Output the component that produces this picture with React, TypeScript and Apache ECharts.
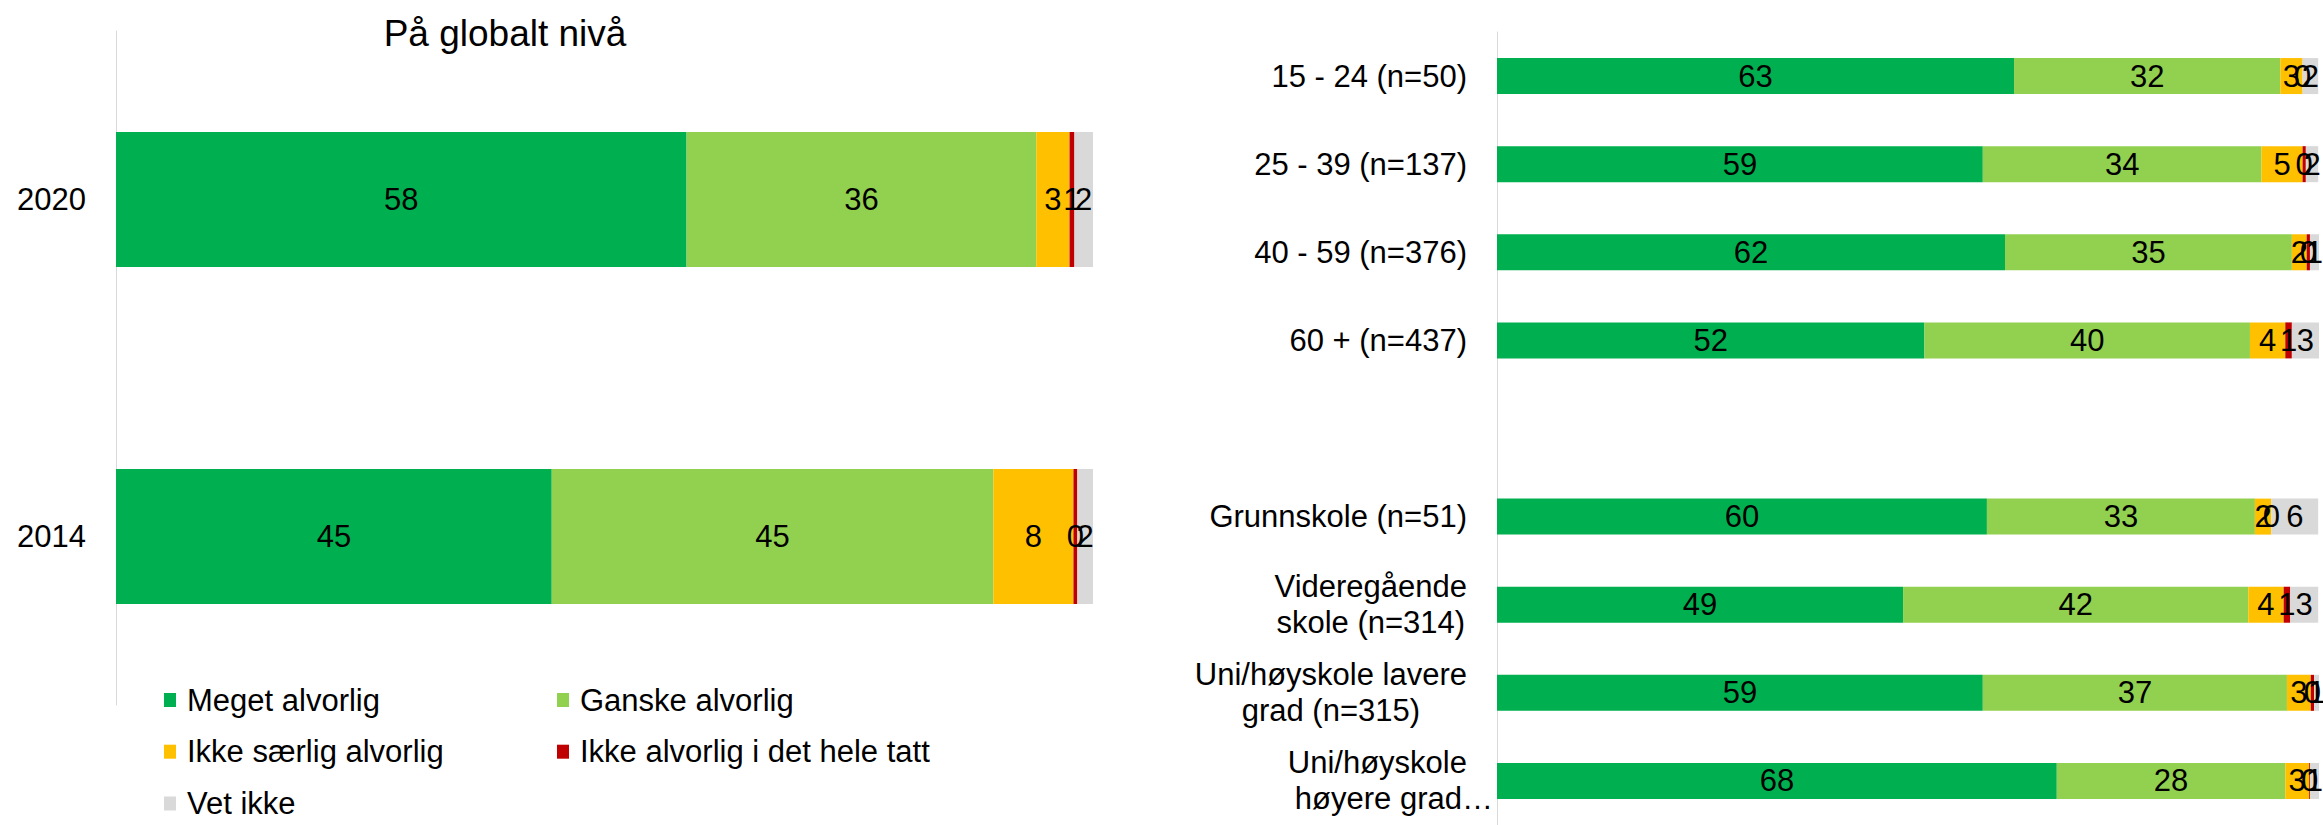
import React, { useEffect, useRef } from "react";
import * as echarts from "echarts";

const FONT = "'Liberation Sans', Arial, sans-serif";

const seriesNames = [
  "Meget alvorlig",
  "Ganske alvorlig",
  "Ikke særlig alvorlig",
  "Ikke alvorlig i det hele tatt",
  "Vet ikke",
];
const seriesColors = ["#00B050", "#92D050", "#FFC000", "#C00000", "#D9D9D9"];

// Left panel: "På globalt nivå"
const yearCategories = ["2020", "2014"];
const globalMeget = [58.4, 44.6];
const globalGanske = [35.8, 45.2];
const globalIkkeSaerlig = [3.4, 8.2];
const globalIkkeAlvorlig = [0.5, 0.4];
const globalVetIkke = [1.9, 1.6];

// Right panel: age groups, then education
const ageCategories = ["15 - 24 (n=50)", "25 - 39 (n=137)", "40 - 59 (n=376)", "60 + (n=437)"];
const ageMeget = [62.9, 59.1, 61.8, 52.0];
const ageGanske = [32.4, 33.9, 34.9, 39.6];
const ageIkkeSaerlig = [2.7, 5.0, 1.8, 4.3];
const ageIkkeAlvorlig = [0, 0.4, 0.4, 0.8];
const ageVetIkke = [1.9, 1.5, 1.1, 3.3];

const eduCategories = [
  "Grunnskole (n=51)",
  "Videregående\nskole (n=314)",
  "Uni/høyskole lavere\ngrad (n=315)",
  "Uni/høyskole\nhøyere grad…",
];
const eduMeget = [59.6, 49.4, 59.1, 68.1];
const eduGanske = [32.6, 42.0, 37.0, 27.8];
const eduIkkeSaerlig = [2.0, 4.3, 2.9, 2.9];
const eduIkkeAlvorlig = [0, 0.8, 0.4, 0.1];
const eduVetIkke = [5.7, 3.4, 0.6, 1.1];

const title = "På globalt nivå";

export default function App() {
  const ref = useRef<HTMLDivElement>(null);

  useEffect(() => {
    if (!ref.current) return;
    const chart = echarts.init(ref.current, undefined, { renderer: "svg" });

    const globalData = [globalMeget, globalGanske, globalIkkeSaerlig, globalIkkeAlvorlig, globalVetIkke];
    const ageData = [ageMeget, ageGanske, ageIkkeSaerlig, ageIkkeAlvorlig, ageVetIkke];
    const eduData = [eduMeget, eduGanske, eduIkkeSaerlig, eduIkkeAlvorlig, eduVetIkke];
    const rightCategories = [...ageCategories, "", ...eduCategories];
    const lastIndex = rightCategories.length - 1;

    const labelCfg = {
      show: true,
      position: "inside",
      color: "#000",
      fontSize: 31,
      fontFamily: FONT,
      formatter: (p: any) => (p.value == null ? "" : String(Math.round(p.value))),
    };

    const series: any[] = [];
    seriesNames.forEach((name, i) => {
      series.push({
        name,
        type: "bar",
        stack: "global",
        xAxisIndex: 0,
        yAxisIndex: 0,
        barWidth: 135,
        itemStyle: { color: seriesColors[i] },
        label: labelCfg,
        data: globalData[i],
      });
    });
    seriesNames.forEach((name, i) => {
      series.push({
        name,
        type: "bar",
        stack: "groups",
        xAxisIndex: 1,
        yAxisIndex: 1,
        barWidth: 36,
        itemStyle: { color: seriesColors[i] },
        label: labelCfg,
        data: [...ageData[i], null, ...eduData[i]],
      });
    });

    const legendPos = [
      { x: 164, row: 0 },
      { x: 557, row: 0 },
      { x: 164, row: 1 },
      { x: 557, row: 1 },
      { x: 164, row: 2 },
    ];
    const rowCenters = [700, 751.7, 803.5];
    const legends = seriesNames.map((name, i) => ({
      data: [name],
      left: legendPos[i].x,
      top: rowCenters[legendPos[i].row] - 15.5,
      padding: 0,
      icon: "rect",
      itemWidth: 12,
      itemHeight: 14,
      selectedMode: false,
      textStyle: { fontSize: 31, color: "#000", fontFamily: FONT, padding: [0, 0, 0, 6] },
    }));

    const richBase = { fontSize: 31, lineHeight: 36, color: "#000", fontFamily: FONT };

    chart.setOption({
      animation: false,
      backgroundColor: "#fff",
      textStyle: { fontFamily: FONT },
      title: {
        text: title,
        left: 500,
        top: 10,
        textAlign: "center",
        textStyle: { fontSize: 37, fontWeight: "normal", color: "#000", fontFamily: FONT },
      },
      legend: legends,
      grid: [
        { left: 116, width: 977, top: 31, height: 674 },
        { left: 1497, width: 822, top: 32, height: 803 },
      ],
      xAxis: [
        { type: "value", gridIndex: 0, min: 0, max: 100, show: false },
        { type: "value", gridIndex: 1, min: 0, max: 100, show: false },
      ],
      yAxis: [
        {
          type: "category",
          gridIndex: 0,
          inverse: true,
          data: yearCategories,
          axisLine: { show: true, lineStyle: { color: "#D9D9D9", width: 1 } },
          axisTick: { show: false },
          splitLine: { show: false },
          axisLabel: { fontSize: 31, color: "#000", margin: 30, fontFamily: FONT },
        },
        {
          type: "category",
          gridIndex: 1,
          inverse: true,
          data: rightCategories,
          axisLine: { show: true, lineStyle: { color: "#D9D9D9", width: 1 } },
          axisTick: { show: false },
          splitLine: { show: false },
          axisLabel: {
            margin: 30,
            interval: 0,
            color: "#000",
            fontSize: 31,
            fontFamily: FONT,
            formatter: (v: string, idx: number) => {
              const lines = v.split("\n");
              if (idx === lastIndex && lines.length === 2) {
                return `{r|${lines[0]}}\n{d|${lines[1]}}`;
              }
              return lines.map((line) => `{c|${line}}`).join("\n");
            },
            rich: {
              c: { ...richBase, align: "center" },
              r: { ...richBase, align: "right" },
              d: { ...richBase, align: "right", padding: [0, -26, 0, 0] },
            },
          },
        },
      ],
      series,
    });

    return () => chart.dispose();
  }, []);

  return (
    <div
      ref={ref}
      style={{ position: "absolute", left: 0, top: 0, width: 2323, height: 825 }}
    />
  );
}
